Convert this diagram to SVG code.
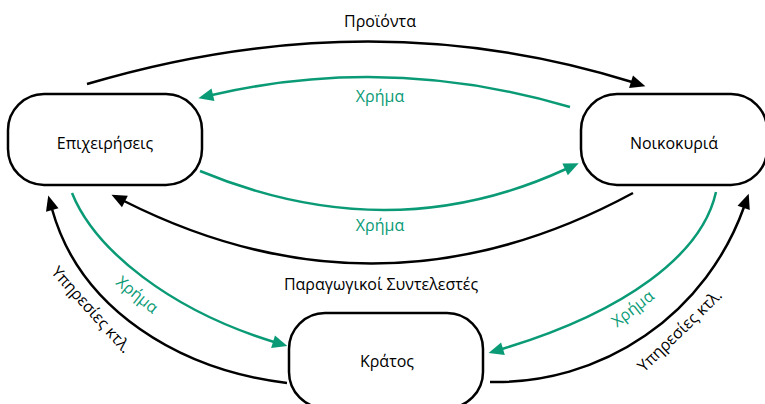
<svg xmlns="http://www.w3.org/2000/svg" width="765" height="404" viewBox="0 0 765 404">
<style>
text{font-family:"Open Sans","Noto Sans","DejaVu Sans",sans-serif;font-size:16px;text-anchor:middle}
.node{fill:#fff;stroke:#000;stroke-width:2.5}
.blk{fill:none;stroke:#000;stroke-width:2.5}
.grn{fill:none;stroke:#0a9b76;stroke-width:2.5}
.g{fill:#0a9b76}
</style>
<defs>
<marker id="ab" markerUnits="userSpaceOnUse" markerWidth="16" markerHeight="14" refX="1" refY="6.5" orient="auto" overflow="visible"><path d="M0,0 L15,6.5 L0,13 z" fill="#000"/></marker>
<marker id="ag" markerUnits="userSpaceOnUse" markerWidth="16" markerHeight="14" refX="1" refY="6.5" orient="auto" overflow="visible"><path d="M0,0 L15,6.5 L0,13 z" fill="#0a9b76"/></marker>
</defs>
<g id="connectors">
<path class="blk" d="M87,84 Q370,0 632,82" marker-end="url(#ab)"/>
<path class="grn" d="M570,107 Q390,54 212,95" marker-end="url(#ag)"/>
<path class="grn" d="M200,171 Q390,250 566,169" marker-end="url(#ag)"/>
<path class="blk" d="M633,193 Q380,330 124,201" marker-end="url(#ab)"/>
<path class="grn" d="M72,193 C95,250 170,310 274,342" marker-end="url(#ag)"/>
<path class="blk" d="M287,383 C180,370 80,310 52,209" marker-end="url(#ab)"/>
<path class="grn" d="M716,192 C702,255 625,312 502,349" marker-end="url(#ag)"/>
<path class="blk" d="M490,382 A263.5,263.5 0 0 0 744,207" marker-end="url(#ab)"/>
<text x="380" y="27">Προϊόντα</text>
<text class="g" x="380" y="102">Χρήμα</text>
<text class="g" x="380" y="231">Χρήμα</text>
<text x="381" y="290">Παραγωγικοί Συντελεστές</text>
<text class="g" transform="translate(137,295) rotate(39)" y="5">Χρήμα</text>
<text transform="translate(91,310) rotate(48)" y="5">Υπηρεσίες κτλ.</text>
<text class="g" transform="translate(633,309) rotate(-38)" y="5">Χρήμα</text>
<text transform="translate(680,331) rotate(-44)" y="5">Υπηρεσίες κτλ.</text>
</g>
<g id="node-epixeiriseis">
<rect class="node" x="8" y="94" width="194" height="91" rx="36"/>
<text x="105" y="149">Επιχειρήσεις</text>
</g>
<g id="node-noikokyria">
<rect class="node" x="581" y="94" width="186" height="91" rx="36"/>
<text x="674" y="149">Νοικοκυριά</text>
</g>
<g id="node-kratos">
<rect class="node" x="289" y="313" width="194" height="95" rx="36"/>
<text x="387" y="367">Κράτος</text>
</g>
</svg>
